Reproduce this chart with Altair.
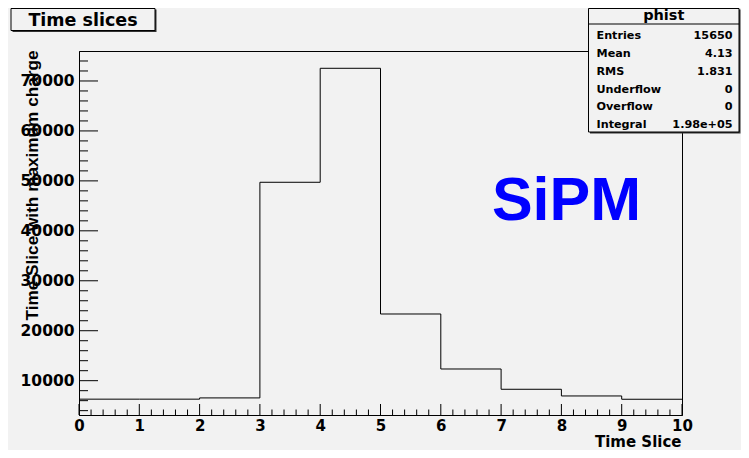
import altair as alt
import pandas as pd

# ---- data ----
bin_edges = [0, 1, 2, 3, 4, 5, 6, 7, 8, 9, 10]
bin_counts = [6300, 6300, 6550, 49720, 72540, 23350, 12340, 8280, 6940, 6280]
x_tick_labels = [0, 1, 2, 3, 4, 5, 6, 7, 8, 9, 10]
y_tick_labels = [10000, 20000, 30000, 40000, 50000, 60000, 70000]
y_minor_ticks = [v for v in range(4000, 76000, 2000) if v % 10000 != 0]
x_minor_ticks = [i + k / 5 for i in range(10) for k in range(1, 5)]
stat_names = ["Entries", "Mean", "RMS", "Underflow", "Overflow", "Integral"]
stat_values = ["15650", "4.13", "1.831", "0", "0", "1.98e+05"]
hist_name = "phist"
title_text = "Time slices"
x_title = "Time Slice"
y_title = "Time Slice with maximum charge"
label_text = "SiPM"

W, H = 603, 364
BG = "#f2f2f2"
ROOTFONT = "DejaVu Sans"

hist_df = pd.DataFrame({"x": bin_edges, "y": bin_counts + [bin_counts[-1]]})

xs = alt.Scale(domain=[0, 10], nice=False, zero=False)
ys = alt.Scale(domain=[3130, 76000], nice=False, zero=False)

xaxis = alt.Axis(values=x_tick_labels, ticks=False, grid=False, format="d",
                 labelFont=ROOTFONT, labelFontSize=15, labelFontWeight="bold",
                 labelColor="black", labelPadding=3, domainColor="black", domainWidth=1,
                 title=x_title, titleFont=ROOTFONT, titleFontSize=15, titleFontWeight="bold",
                 titleColor="black", titleX=602, titleY=31.5, titleAlign="right",
                 titleBaseline="alphabetic", labelFlush=False, labelOverlap=False)
yaxis = alt.Axis(values=y_tick_labels, ticks=False, grid=False, format="d",
                 labelFont=ROOTFONT, labelFontSize=15.5, labelFontWeight="bold",
                 labelColor="black", labelPadding=5, domainColor="black", domainWidth=1,
                 title=y_title, titleFont="Liberation Sans", titleFontSize=17.2,
                 titleFontWeight="bold", titleColor="black", titleX=-42, titleY=134,
                 titleAngle=270, titleAlign="center", titleBaseline="alphabetic",
                 labelOverlap=False)

hist = alt.Chart(hist_df).mark_line(interpolate="step-after", color="black", strokeWidth=1).encode(
    x=alt.X("x:Q", scale=xs, axis=xaxis),
    y=alt.Y("y:Q", scale=ys, axis=yaxis),
)

ymaj = alt.Chart(pd.DataFrame({"y": y_tick_labels})).mark_rule(color="black", strokeWidth=1).encode(
    y=alt.Y("y:Q", scale=ys, axis=yaxis), x=alt.value(0), x2=alt.value(19))
ymin = alt.Chart(pd.DataFrame({"y": y_minor_ticks})).mark_rule(color="black", strokeWidth=1).encode(
    y=alt.Y("y:Q", scale=ys, axis=yaxis), x=alt.value(0), x2=alt.value(9))
xmaj = alt.Chart(pd.DataFrame({"x": x_tick_labels})).mark_rule(color="black", strokeWidth=1).encode(
    x=alt.X("x:Q", scale=xs, axis=xaxis), y=alt.value(H), y2=alt.value(H - 11))
xmin = alt.Chart(pd.DataFrame({"x": x_minor_ticks})).mark_rule(color="black", strokeWidth=1).encode(
    x=alt.X("x:Q", scale=xs, axis=xaxis), y=alt.value(H), y2=alt.value(H - 5.5))

one = pd.DataFrame({"t": [title_text]})

# title box
tshadow = alt.Chart(one).mark_rect(fill="#333333").encode(
    x=alt.value(-66.5), x2=alt.value(77.5), y=alt.value(-41.5), y2=alt.value(-19))
tbox = alt.Chart(one).mark_rect(fill=BG, stroke="black", strokeWidth=1).encode(
    x=alt.value(-68), x2=alt.value(76), y=alt.value(-42.5), y2=alt.value(-20.5))
ttext = alt.Chart(one).mark_text(font=ROOTFONT, fontSize=17.5, fontWeight="bold", color="black",
                                 align="center", baseline="alphabetic").encode(
    x=alt.value(4), y=alt.value(-25), text="t:N")

# stats box
SX0, SX1 = 509.5, 660
sshadow = alt.Chart(one).mark_rect(fill="#333333").encode(
    x=alt.value(SX0 + 1.5), x2=alt.value(SX1 + 1.5), y=alt.value(-41.5), y2=alt.value(82.5))
sbox = alt.Chart(one).mark_rect(fill=BG, stroke="black", strokeWidth=1).encode(
    x=alt.value(SX0), x2=alt.value(SX1), y=alt.value(-42.5), y2=alt.value(81))
ssep = alt.Chart(one).mark_rule(color="black", strokeWidth=1).encode(
    x=alt.value(SX0), x2=alt.value(SX1), y=alt.value(-27))
sname = alt.Chart(pd.DataFrame({"t": [hist_name]})).mark_text(
    font=ROOTFONT, fontSize=14.5, fontWeight="bold", color="black", align="center",
    baseline="alphabetic").encode(x=alt.value((SX0 + SX1) / 2), y=alt.value(-31), text="t:N")
slabels = alt.Chart(pd.DataFrame({"t": ["\n".join(stat_names)]})).mark_text(
    font=ROOTFONT, fontSize=11.2, fontWeight="bold", color="black", align="left",
    baseline="alphabetic", lineBreak="\n", lineHeight=17.8).encode(
    x=alt.value(SX0 + 8), y=alt.value(-11.7), text="t:N")
svalues = alt.Chart(pd.DataFrame({"t": ["\n".join(stat_values)]})).mark_text(
    font=ROOTFONT, fontSize=11.2, fontWeight="bold", color="black", align="right",
    baseline="alphabetic", lineBreak="\n", lineHeight=17.8).encode(
    x=alt.value(SX1 - 6.5), y=alt.value(-11.7), text="t:N")

sipm = alt.Chart(pd.DataFrame({"t": [label_text]})).mark_text(
    font="Liberation Sans", fontSize=61, fontWeight="bold", color="#0000ff", align="center",
    baseline="alphabetic").encode(x=alt.value(487.5), y=alt.value(169), text="t:N")

chart = alt.layer(
    hist, ymaj, ymin, xmaj, xmin,
    tshadow, tbox, ttext,
    sshadow, sbox, ssep, sname, slabels, svalues,
    sipm,
).properties(
    width=W, height=H,
    background=BG,
    padding={"left": 71, "top": 43, "right": 59, "bottom": 35},
    autosize=alt.AutoSizeParams(type="none"),
).configure_view(stroke="black", strokeWidth=1, fill=None)

chart.save("out.html", embed_options={"renderer": "svg", "actions": False})
